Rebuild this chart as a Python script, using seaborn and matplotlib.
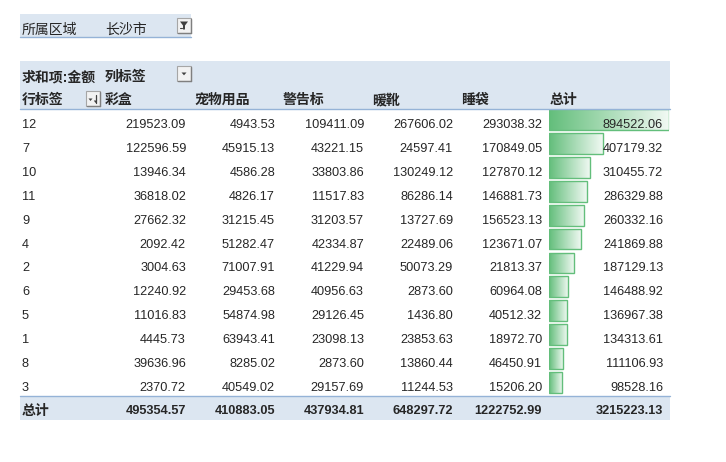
import matplotlib
matplotlib.use("Agg")
import matplotlib.pyplot as plt
from matplotlib.patches import Rectangle, Polygon
from matplotlib.colors import LinearSegmentedColormap
import numpy as np
import pandas as pd
import seaborn as sns

sns.set_style("white")
plt.rcParams['font.family'] = ['Liberation Sans', 'Noto Sans CJK SC', 'DejaVu Sans']

# ---------------- data ----------------
filter_label = "所属区域"
filter_value = "长沙市"
value_title = "求和项:金额"
col_title = "列标签"
row_title = "行标签"
categories = ["彩盒", "宠物用品", "警告标", "暖靴", "睡袋"]
total_label = "总计"
row_labels = ["12", "7", "10", "11", "9", "4", "2", "6", "5", "1", "8", "3"]
caihe = [219523.09, 122596.59, 13946.34, 36818.02, 27662.32, 2092.42,
         3004.63, 12240.92, 11016.83, 4445.73, 39636.96, 2370.72]
chongwu = [4943.53, 45915.13, 4586.28, 4826.17, 31215.45, 51282.47,
           71007.91, 29453.68, 54874.98, 63943.41, 8285.02, 40549.02]
jinggao = [109411.09, 43221.15, 33803.86, 11517.83, 31203.57, 42334.87,
           41229.94, 40956.63, 29126.45, 23098.13, 2873.60, 29157.69]
nuanxue = [267606.02, 24597.41, 130249.12, 86286.14, 13727.69, 22489.06,
           50073.29, 2873.60, 1436.80, 23853.63, 13860.44, 11244.53]
shuidai = [293038.32, 170849.05, 127870.12, 146881.73, 156523.13, 123671.07,
           21813.37, 60964.08, 40512.32, 18972.70, 46450.91, 15206.20]
row_totals = [894522.06, 407179.32, 310455.72, 286329.88, 260332.16, 241869.88,
              187129.13, 146488.92, 136967.38, 134313.61, 111106.93, 98528.16]
col_totals = [495354.57, 410883.05, 437934.81, 648297.72, 1222752.99]
grand_total = 3215223.13

series = [caihe, chongwu, jinggao, nuanxue, shuidai]

# ---------------- figure ----------------
W, H = 726, 462
fig = plt.figure(figsize=(W / 100, H / 100), dpi=100)
fig.patch.set_facecolor("white")

ROW0 = 109.0
ROWH = 23.9
nrows = len(row_labels)

# data bars (Excel style) via seaborn
bax = fig.add_axes([548.5 / W, 1 - (ROW0 + nrows * ROWH) / H, 121 / W, nrows * ROWH / H])
df = pd.DataFrame({"row": row_labels, "total": row_totals})
sns.barplot(data=df, x="total", y="row", order=row_labels, orient="h", ax=bax,
            width=0.87, color="#63BE7B", edgecolor="#63BE7B", linewidth=1.0)
xmax = max(row_totals) * 1.005
cmap = LinearSegmentedColormap.from_list("db", ["#63BE7B", "#F3FAF5"])
grad = np.linspace(0, 1, 256).reshape(1, -1)
for p in bax.patches:
    x0, y0 = p.get_x(), p.get_y()
    w, h = p.get_width(), p.get_height()
    im = bax.imshow(grad, extent=(x0, x0 + w, y0 + h, y0), aspect="auto",
                    cmap=cmap, zorder=1)
    im.set_clip_path(p)
    p.set_facecolor("none")
    p.set_zorder(2)
bax.set_xlim(0, xmax)
bax.set_ylim(nrows - 0.5 + 0.06, -0.5 + 0.06)
bax.axis("off")

# main text layer
ax = fig.add_axes([0, 0, 1, 1])
ax.set_zorder(5)
ax.patch.set_visible(False)
ax.set_xlim(0, W)
ax.set_ylim(H, 0)
ax.axis("off")

BG = "#DCE6F1"
LINE = "#95B3D7"
FS = 9.2
FSC = 10.0

# filter area
ax.add_patch(Rectangle((20, 14), 171, 23, facecolor=BG, edgecolor="none"))
ax.plot([20, 191], [37, 37], color=LINE, lw=1)
ax.text(22, 30, filter_label, fontsize=FSC, va="center", ha="left")
ax.text(105, 30, filter_value, fontsize=FSC, va="center", ha="left")


def button(x, y, kind):
    ax.add_patch(Rectangle((x, y), 14, 15, facecolor="#F2F2F2", edgecolor="#A6A6A6", lw=0.8))
    ax.plot([x + 1, x + 14], [y + 15, y + 15], color="#7F7F7F", lw=1)
    ax.plot([x + 14, x + 14], [y + 1, y + 15], color="#7F7F7F", lw=1)
    cx, cy = x + 7, y + 7.5
    if kind == "filter":
        ax.add_patch(Polygon([(cx - 4, cy - 4), (cx + 4, cy - 4), (cx + 1, cy),
                              (cx + 1, cy + 4), (cx - 1, cy + 4), (cx - 1, cy)],
                             closed=True, facecolor="#404040", edgecolor="none"))
        ax.plot([cx - 4, cx - 2], [cy + 2, cy + 2], color="#404040", lw=0.8)
    elif kind == "drop":
        ax.add_patch(Polygon([(cx - 2.5, cy - 1), (cx + 2.5, cy - 1), (cx, cy + 1.8)],
                             closed=True, facecolor="#404040", edgecolor="none"))
    elif kind == "sort":
        ax.add_patch(Polygon([(cx - 4.5, cy), (cx - 0.5, cy), (cx - 2.5, cy + 2.5)],
                             closed=True, facecolor="#404040", edgecolor="none"))
        ax.plot([cx + 2.5, cx + 2.5], [cy - 4, cy + 4], color="#404040", lw=0.9)
        ax.add_patch(Polygon([(cx + 0.8, cy + 2), (cx + 4.2, cy + 2), (cx + 2.5, cy + 4.5)],
                             closed=True, facecolor="#404040", edgecolor="none"))


button(177, 18, "filter")

# pivot header
ax.add_patch(Rectangle((20, 61), 650, 48, facecolor=BG, edgecolor="none"))
ax.plot([20, 670], [109, 109], color=LINE, lw=1)
ax.text(22, 77, value_title, fontsize=FSC, va="center", ha="left", fontweight="bold")
ax.text(105, 77, col_title, fontsize=FSC, va="center", ha="left", fontweight="bold")
button(177, 66, "drop")
ax.text(22, 100, row_title, fontsize=FSC, va="center", ha="left", fontweight="bold")
button(86, 91, "sort")

col_left = [105, 194, 283, 372, 461]
col_right = [186, 275, 364, 453, 542]
for lbl, xl in zip(categories, col_left):
    ax.text(xl, 100, lbl, fontsize=FSC, va="center", ha="left", fontweight="bold")
ax.text(550, 100, total_label, fontsize=FSC, va="center", ha="left", fontweight="bold")

# body
for i, r in enumerate(row_labels):
    y = 125 + ROWH * i
    ax.text(22, y, r, fontsize=FS, va="center", ha="left")
    for s, xr in zip(series, col_right):
        ax.text(xr, y, f"{s[i]:.2f}", fontsize=FS, va="center", ha="right")
    ax.text(663, y, f"{row_totals[i]:.2f}", fontsize=FS, va="center", ha="right")

# total row
ax.add_patch(Rectangle((20, 396), 650, 24, facecolor=BG, edgecolor="none"))
ax.plot([20, 670], [396, 396], color=LINE, lw=1)
ax.text(22, 411, total_label, fontsize=FSC, va="center", ha="left", fontweight="bold")
for v, xr in zip(col_totals, col_right):
    ax.text(xr, 411, f"{v:.2f}", fontsize=FS, va="center", ha="right", fontweight="bold")
ax.text(663, 411, f"{grand_total:.2f}", fontsize=FS, va="center", ha="right", fontweight="bold")

fig.savefig("out.png", dpi=100, facecolor="white")
